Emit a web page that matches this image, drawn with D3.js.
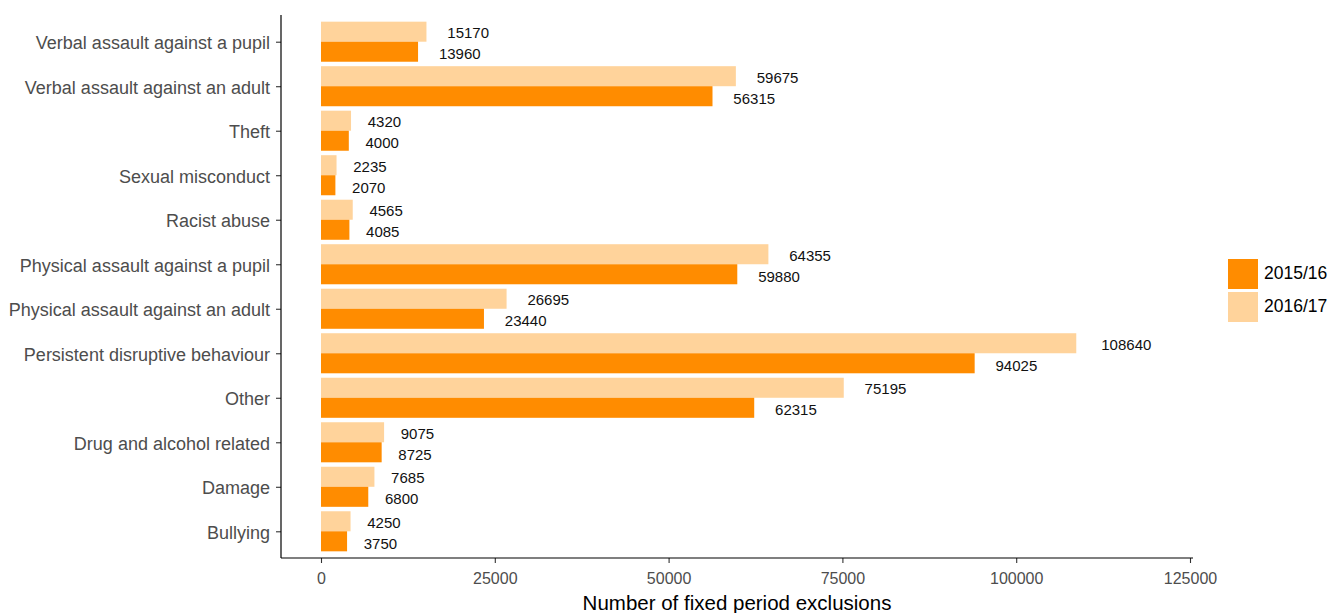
<!DOCTYPE html>
<html>
<head>
<meta charset="utf-8">
<script src="https://cdn.jsdelivr.net/npm/d3@7"></script>
<style>
  body { margin: 0; background: #fff; }
  svg { font-family: "Liberation Sans", Arial, sans-serif; }
</style>
</head>
<body>
<svg id="chart" width="1330" height="613"></svg>
<script>
// categories top to bottom
const categories = [
  'Verbal assault against a pupil',
  'Verbal assault against an adult',
  'Theft',
  'Sexual misconduct',
  'Racist abuse',
  'Physical assault against a pupil',
  'Physical assault against an adult',
  'Persistent disruptive behaviour',
  'Other',
  'Drug and alcohol related',
  'Damage',
  'Bullying'
]
const years = ['2015/16', '2016/17']
const values1516 = [13960, 56315, 4000, 2070, 4085, 59880, 23440, 94025, 62315, 8725, 6800, 3750]
const values1617 = [15170, 59675, 4320, 2235, 4565, 64355, 26695, 108640, 75195, 9075, 7685, 4250]
const xTicks = [0, 25000, 50000, 75000, 100000, 125000]
const colors = { '2015/16': '#FF8C00', '2016/17': '#FFD39B' }

const svg = d3.select('#chart')

const panelLeft = 281, panelRight = 1193, panelTop = 15, panelBottom = 558

const x = d3.scaleLinear().domain([0, 125000]).range([321, 1190])

// ggplot style discrete expansion of 0.6 units each side
const step = (panelBottom - panelTop) / (categories.length - 1 + 1.2)
const y = d3.scalePoint()
  .domain(categories)
  .range([panelTop + 0.6 * step, panelBottom - 0.6 * step])
const barH = 0.9 * step / 2

const rows = categories.map((c, i) => ({ cat: c, v1516: values1516[i], v1617: values1617[i] }))

// bars
const bars = []
rows.forEach(r => {
  bars.push({ cat: r.cat, year: '2016/17', value: r.v1617, top: y(r.cat) - barH, labelDy: 2.5 })
  bars.push({ cat: r.cat, year: '2015/16', value: r.v1516, top: y(r.cat), labelDy: 3.5 })
})

svg.append('g').attr('class', 'bars')
  .selectAll('rect')
  .data(bars)
  .join('rect')
  .attr('x', x(0))
  .attr('y', d => d.top)
  .attr('width', d => x(d.value) - x(0))
  .attr('height', barH)
  .attr('fill', d => colors[d.year])

// value labels, nudged right by half their width
svg.append('g').attr('class', 'labels')
  .selectAll('text')
  .data(bars)
  .join('text')
  .attr('y', d => d.top + barH / 2 + d.labelDy)
  .attr('dominant-baseline', 'middle')
  .attr('font-size', 15)
  .attr('fill', '#111')
  .text(d => d.value)
  .attr('x', function (d) {
    return x(d.value) + this.getComputedTextLength() * 0.5
  })

// x axis
const xAxis = svg.append('g')
  .attr('transform', `translate(0,${panelBottom})`)
  .call(d3.axisBottom(x).tickValues(xTicks).tickFormat(d => d).tickSize(5).tickSizeOuter(0))
xAxis.select('.domain').remove()
xAxis.selectAll('.tick line').attr('stroke', '#333').attr('stroke-width', 1.1)
xAxis.selectAll('.tick text')
  .attr('font-size', 16)
  .attr('fill', '#4d4d4d')
  .attr('font-family', null)
  .attr('dy', '1.15em')

// y axis
const yAxis = svg.append('g')
  .attr('transform', `translate(${panelLeft},0)`)
  .call(d3.axisLeft(y).tickSize(5).tickPadding(6))
yAxis.select('.domain').remove()
yAxis.selectAll('.tick line').attr('stroke', '#333').attr('stroke-width', 1.1)
yAxis.selectAll('.tick text')
  .attr('font-size', 18)
  .attr('fill', '#4d4d4d')
  .attr('font-family', null)
  .attr('dy', '0.38em')

// axis lines
svg.append('line')
  .attr('x1', panelLeft).attr('x2', panelRight)
  .attr('y1', panelBottom).attr('y2', panelBottom)
  .attr('stroke', '#000').attr('stroke-width', 1.2)
svg.append('line')
  .attr('x1', panelLeft).attr('x2', panelLeft)
  .attr('y1', panelTop).attr('y2', panelBottom)
  .attr('stroke', '#000').attr('stroke-width', 1.2)

// axis title
svg.append('text')
  .attr('x', (panelLeft + panelRight) / 2)
  .attr('y', 610)
  .attr('text-anchor', 'middle')
  .attr('font-size', 20.5)
  .attr('fill', '#000')
  .text('Number of fixed period exclusions')

// legend
const legend = svg.append('g').attr('transform', 'translate(1228,259)')
const item = legend.selectAll('g')
  .data(years)
  .join('g')
  .attr('transform', (d, i) => `translate(0,${i * 33})`)
item.append('rect')
  .attr('width', 30).attr('height', 30)
  .attr('fill', d => colors[d])
item.append('text')
  .attr('x', 36).attr('y', 15)
  .attr('dominant-baseline', 'middle')
  .attr('font-size', 17.5)
  .attr('fill', '#000')
  .text(d => d)
</script>
</body>
</html>
